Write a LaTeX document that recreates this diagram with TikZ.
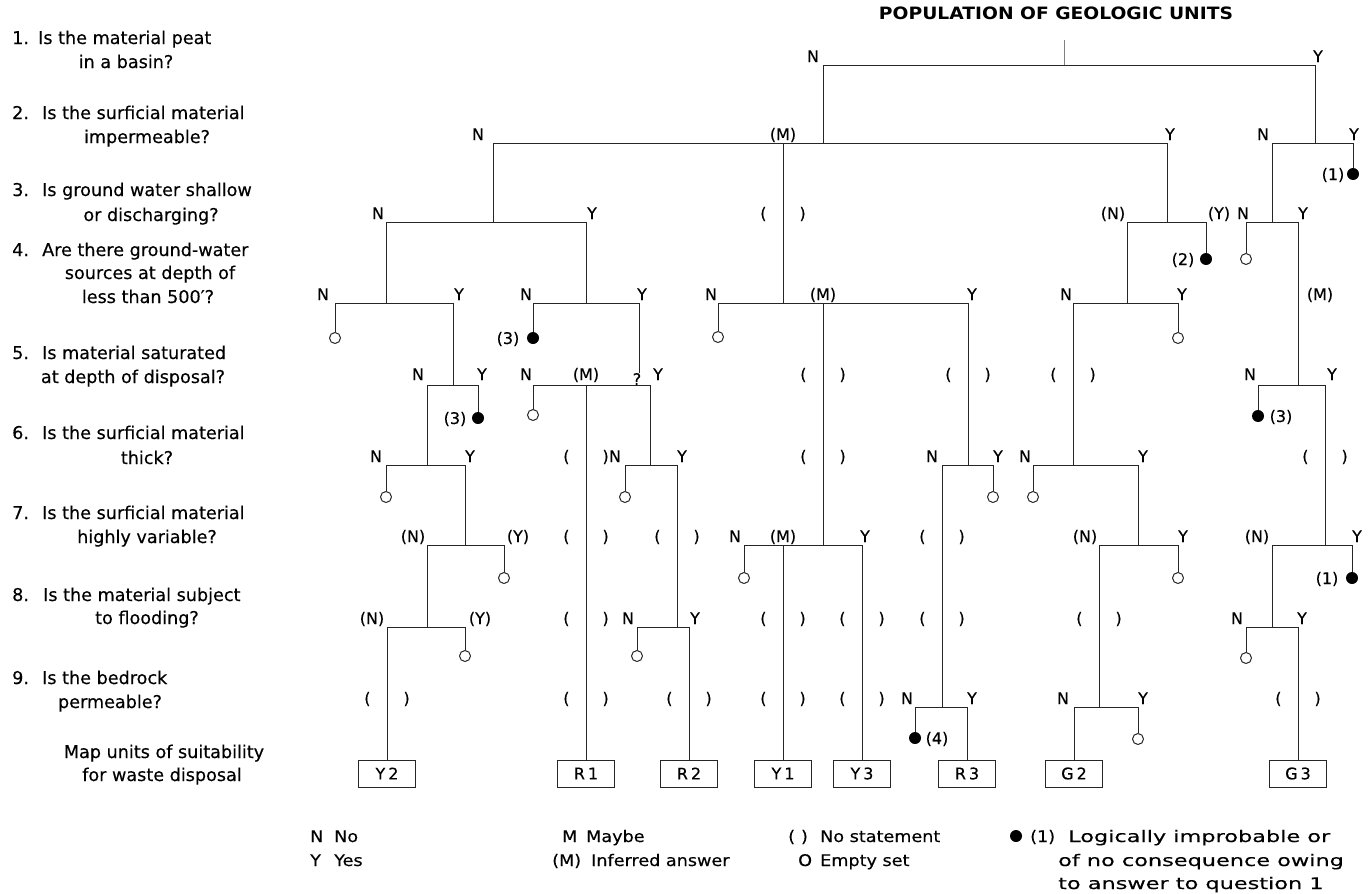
\documentclass[tikz,border=0pt]{standalone}
\usepackage{fontspec}
\setmainfont{DejaVu Sans}[UprightFeatures={FakeBold=0.3}]
\newfontfamily\legfont{DejaVu Sans}[FakeStretch=1.1,UprightFeatures={FakeBold=0.3}]
\newfontfamily\legwfont{DejaVu Sans}[FakeStretch=1.4,UprightFeatures={FakeBold=0.3}]
\newfontfamily\titlefont{DejaVu Sans Bold}[FakeStretch=1.1]
\newcommand\br[2]{\draw[ln] (#1) -| (#2);}
\newcommand\lb[4]{\node[lbl] (#1) at (#2,#3) {#4};}
\newcommand\np[3]{\node[lbl] (#1) at (#2,#3) {(\hspace{33pt})};}
\begin{document}
\begin{tikzpicture}[x=1pt,y=-1pt,
  ln/.style={line width=1pt,draw=black!85},
  lbl/.style={font=\fontsize{16}{18}\selectfont,anchor=base,inner sep=0pt},
  qn/.style={font=\fontsize{17.6}{20}\selectfont,anchor=base west,inner sep=0pt},
  qc/.style={font=\fontsize{17.6}{20}\selectfont,anchor=base,inner sep=0pt},
  ecirc/.style={circle,draw=black!85,line width=1pt,fill=white,minimum size=11pt,inner sep=0pt},
  fdot/.style={circle,fill=black,minimum size=12pt,inner sep=0pt},
  unitbox/.style={draw=black!85,line width=1pt,minimum width=57pt,minimum height=27pt,inner sep=0pt,font=\fontsize{16}{18}\selectfont},
  leg/.style={font=\legfont\fontsize{16}{18}\selectfont,anchor=base west,inner sep=0pt},
  legw/.style={font=\legwfont\fontsize{16}{18}\selectfont,anchor=base west,inner sep=0pt},
]
\useasboundingbox (0,0) rectangle (1371,894);

% ---------- questions ----------
\node[qn] (n1) at (12,44) {1.};
\node[qn] (q1a) at (38,44) {Is the material peat};
\node[qc] (q1b) at (126,68) {in a basin?};
\node[qn] (n2) at (12,119) {2.};
\node[qn] (q2a) at (42,119) {Is the surficial material};
\node[qc] (q2b) at (147,143) {impermeable?};
\node[qn] (n3) at (12,196) {3.};
\node[qn] (q3a) at (42,196) {Is ground water shallow};
\node[qc] (q3b) at (151,221) {or discharging?};
\node[qn] (n4) at (12,256) {4.};
\node[qn] (q4a) at (42,256) {Are there ground-water};
\node[qc] (q4b) at (150,279) {sources at depth of};
\node[qc] (q4c) at (148,303) {less than 500′?};
\node[qn] (n5) at (12,359) {5.};
\node[qn] (q5a) at (42,359) {Is material saturated};
\node[qc] (q5b) at (133,383) {at depth of disposal?};
\node[qn] (n6) at (12,439) {6.};
\node[qn] (q6a) at (42,439) {Is the surficial material};
\node[qc] (q6b) at (147,464) {thick?};
\node[qn] (n7) at (12,519) {7.};
\node[qn] (q7a) at (42,519) {Is the surficial material};
\node[qc] (q7b) at (147,543) {highly variable?};
\node[qn] (n8) at (12,601) {8.};
\node[qn] (q8a) at (43,601) {Is the material subject};
\node[qc] (q8b) at (147,624) {to flooding?};
\node[qn] (n9) at (12,684) {9.};
\node[qn] (q9a) at (42,684) {Is the bedrock};
\node[qc] (q9b) at (110,708) {permeable?};
\node[qc] (mua) at (164,758) {Map units of suitability};
\node[qc] (mub) at (162,781) {for waste disposal};

% ---------- title ----------
\node[font=\titlefont\fontsize{17}{20}\selectfont,inner sep=0pt] (title) at (1056,13) {POPULATION OF GEOLOGIC UNITS};
\coordinate (r0) at (1064,40);
\coordinate (r) at (1064,65);
\draw[line width=0.6pt,black!50] (r0) -- (r);

% ---------- junctions ----------
\coordinate (A) at (823,143);
\coordinate (B) at (1315,143);
\coordinate (AN) at (493,222);
\coordinate (AM) at (783,303);
\coordinate (AY) at (1167,222);
\coordinate (BN) at (1272,222);
\coordinate (ANN) at (386,303);
\coordinate (ANY) at (586,303);
\coordinate (AYN) at (1127,303);
\coordinate (BNY) at (1298,385);
\coordinate (ANNY) at (453,385);
\coordinate (ANYYq) at (639,373);
\coordinate (ANYY) at (639,385);
\coordinate (AMM) at (823,545);
\coordinate (AMY) at (968,465);
\coordinate (AYNN) at (1073,465);
\coordinate (ANNYN) at (427,465);
\coordinate (ANYYY) at (650,465);
\coordinate (BNYY) at (1325,545);
\coordinate (ANNYNY) at (465,545);
\coordinate (AMYN) at (942,707);
\coordinate (AYNNY) at (1138,545);
\coordinate (ANNYNYN) at (427,627);
\coordinate (ANYYYY) at (677,627);
\coordinate (AYNNYN) at (1099,707);
\coordinate (BNYYN) at (1272,627);

% ---------- leaves ----------
\node[fdot] (d1) at (1353,174) {};
\node[fdot] (d2) at (1206,259) {};
\node[fdot] (d3a) at (533,338) {};
\node[fdot] (d3b) at (478,418) {};
\node[fdot] (d3c) at (1258,416) {};
\node[fdot] (d1b) at (1352,578) {};
\node[fdot] (d4) at (915,738) {};
\node[ecirc] (e1) at (335,338) {};
\node[ecirc] (e2) at (386,497) {};
\node[ecirc] (e3) at (504,578) {};
\node[ecirc] (e4) at (465,656) {};
\node[ecirc] (e5) at (533,415) {};
\node[ecirc] (e6) at (625,497) {};
\node[ecirc] (e7) at (637,656) {};
\node[ecirc] (e8) at (718,337) {};
\node[ecirc] (e9) at (744,578) {};
\node[ecirc] (e10) at (993,497) {};
\node[ecirc] (e11) at (1178,338) {};
\node[ecirc] (e12) at (1033,497) {};
\node[ecirc] (e13) at (1178,578) {};
\node[ecirc] (e14) at (1138,739) {};
\node[ecirc] (e15) at (1246,259) {};
\node[ecirc] (e16) at (1246,658) {};
\node[unitbox] (Y2) at (387,773.5) {Y\kern3pt2};
\node[unitbox] (R1) at (586,773.5) {R\kern3pt1};
\node[unitbox] (R2) at (689,773.5) {R\kern3pt2};
\node[unitbox] (Y1) at (783,773.5) {Y\kern3pt1};
\node[unitbox] (Y3) at (862,773.5) {Y\kern3pt3};
\node[unitbox] (R3) at (967,773.5) {R\kern3pt3};
\node[unitbox] (G2) at (1074,773.5) {G\kern3pt2};
\node[unitbox] (G3) at (1298,773.5) {G\kern3pt3};

% ---------- connectors ----------
\br{r}{A} \br{r}{B}
\br{A}{AN} \br{A}{AM} \br{A}{AY}
\br{B}{BN} \br{B}{d1.north}
\br{AN}{ANN} \br{AN}{ANY}
\br{AY}{AYN} \br{AY}{d2.north}
\br{BN}{e15.north} \br{BN}{BNY}
\br{ANN}{e1.north} \br{ANN}{ANNY}
\br{ANY}{d3a.north} \br{ANY}{ANYYq}
\br{AM}{e8.north} \br{AM}{AMM} \br{AM}{AMY}
\br{AYN}{AYNN} \br{AYN}{e11.north}
\br{ANNY}{ANNYN} \br{ANNY}{d3b.north}
\br{ANYY}{e5.north} \br{ANYY}{R1.north} \br{ANYY}{ANYYY}
\br{BNY}{d3c.north} \br{BNY}{BNYY}
\br{ANNYN}{e2.north} \br{ANNYN}{ANNYNY}
\br{ANYYY}{e6.north} \br{ANYYY}{ANYYYY}
\br{AMY}{AMYN} \br{AMY}{e10.north}
\br{AYNN}{e12.north} \br{AYNN}{AYNNY}
\br{ANNYNY}{ANNYNYN} \br{ANNYNY}{e3.north}
\br{AMM}{e9.north} \br{AMM}{Y1.north} \br{AMM}{Y3.north}
\br{AYNNY}{AYNNYN} \br{AYNNY}{e13.north}
\br{BNYY}{BNYYN} \br{BNYY}{d1b.north}
\br{ANNYNYN}{Y2.north} \br{ANNYNYN}{e4.north}
\br{ANYYYY}{e7.north} \br{ANYYYY}{R2.north}
\br{BNYYN}{e16.north} \br{BNYYN}{G3.north}
\br{AMYN}{d4.north} \br{AMYN}{R3.north}
\br{AYNNYN}{G2.north} \br{AYNNYN}{e14.north}

% ---------- branch labels ----------
\lb{l1n}{813}{62}{N} \lb{l1y}{1318}{62}{Y}
\lb{l2n}{478}{140}{N} \lb{l2m}{783}{140}{(M)} \lb{l2y}{1170}{140}{Y}
\lb{l2n2}{1263}{140}{N} \lb{l2y2}{1354}{140}{Y}
\lb{l3a}{378}{219}{N} \lb{l3b}{592}{219}{Y} \np{p3a}{783}{219}
\lb{l3c}{1113}{219}{(N)} \lb{l3d}{1219}{219}{(Y)} \lb{l3e}{1243}{219}{N} \lb{l3f}{1303}{219}{Y}
\lb{l4a}{323}{300}{N} \lb{l4b}{459}{300}{Y} \lb{l4c}{526}{300}{N} \lb{l4d}{642}{300}{Y}
\lb{l4e}{711}{300}{N} \lb{l4f}{823}{300}{(M)} \lb{l4g}{972}{300}{Y}
\lb{l4h}{1066}{300}{N} \lb{l4i}{1182}{300}{Y} \lb{l4j}{1320}{300}{(M)}
\lb{l5a}{418}{380}{N} \lb{l5b}{482}{380}{Y} \lb{l5c}{526}{380}{N} \lb{l5d}{586}{380}{(M)}
\lb{l5q}{637}{385}{?} \lb{l5e}{658}{380}{Y}
\np{p5a}{823}{380} \np{p5b}{968}{380} \np{p5c}{1073}{380}
\lb{l5f}{1250}{380}{N} \lb{l5g}{1332}{380}{Y}
\lb{l6a}{376}{462}{N} \lb{l6b}{470}{462}{Y} \np{p6a}{586}{462} \lb{l6c}{615}{462}{N} \lb{l6d}{682}{462}{Y}
\np{p6b}{823}{462} \lb{l6e}{932}{462}{N} \lb{l6f}{998}{462}{Y} \lb{l6g}{1025}{462}{N} \lb{l6h}{1143}{462}{Y}
\np{p6c}{1325}{462}
\lb{l7a}{413}{542}{(N)} \lb{l7b}{518}{542}{(Y)} \np{p7a}{586}{542} \np{p7b}{677}{542}
\lb{l7c}{735}{542}{N} \lb{l7d}{783}{542}{(M)} \lb{l7e}{865}{542}{Y} \np{p7c}{942}{542}
\lb{l7f}{1085}{542}{(N)} \lb{l7g}{1183}{542}{Y} \lb{l7h}{1257}{542}{(N)} \lb{l7i}{1357}{542}{Y}
\lb{l8a}{372}{624}{(N)} \lb{l8b}{480}{624}{(Y)} \np{p8a}{586}{624} \lb{l8c}{628}{624}{N} \lb{l8d}{695}{624}{Y}
\np{p8b}{783}{624} \np{p8c}{862}{624} \np{p8d}{942}{624} \np{p8e}{1099}{624}
\lb{l8e}{1237}{624}{N} \lb{l8f}{1302}{624}{Y}
\np{p9a}{387}{704} \np{p9b}{586}{704} \np{p9c}{689}{704} \np{p9d}{783}{704} \np{p9e}{862}{704}
\lb{l9a}{907}{704}{N} \lb{l9b}{972}{704}{Y} \lb{l9c}{1063}{704}{N} \lb{l9d}{1143}{704}{Y}
\np{p9f}{1298}{704}

% dot labels
\lb{t1}{1333}{180}{(1)} \lb{t2}{1183}{265}{(2)} \lb{t3a}{508}{344}{(3)} \lb{t3b}{455}{424}{(3)}
\lb{t3c}{1281}{422}{(3)} \lb{t1b}{1327}{584}{(1)} \lb{t4}{937}{744}{(4)}

% ---------- legend ----------
\node[leg] (kN) at (310,842) {N};
\node[leg] (kNo) at (334,842) {No};
\node[leg] (kY) at (310,866) {Y};
\node[leg] (kYes) at (334,866) {Yes};
\node[leg] (kM) at (562,842) {M};
\node[leg] (kMaybe) at (586,842) {Maybe};
\node[leg] (kMM) at (552,866) {(M)};
\node[leg] (kInf) at (591,866) {Inferred answer};
\node[leg] (kP) at (788,842) {(\hspace{6pt})};
\node[leg] (kNS) at (820,842) {No statement};
\node[leg] (kO) at (798,866) {O};
\node[leg] (kES) at (820,866) {Empty set};
\node[fdot] (kdot) at (1016,836) {};
\node[leg] (k1) at (1030,842) {(1)};
\node[legw] (kL1) at (1068,842) {Logically improbable or};
\node[legw] (kL2) at (1058,866) {of no consequence owing};
\node[legw] (kL3) at (1058,889) {to answer to question 1};
\end{tikzpicture}
\end{document}
